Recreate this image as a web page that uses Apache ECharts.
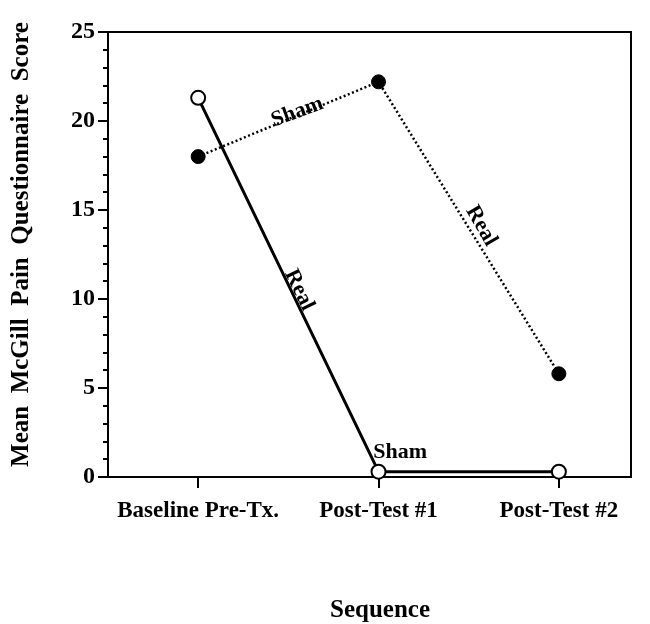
<!DOCTYPE html>
<html>
<head>
<meta charset="utf-8">
<script src="https://cdn.jsdelivr.net/npm/echarts@6/dist/echarts.min.js"></script>
<style>html,body{margin:0;padding:0;background:#fff}#c{width:650px;height:624px}</style>
</head>
<body>
<div id="c"></div>
<script>
// Data
var categories = ['Baseline Pre-Tx.', 'Post-Test #1', 'Post-Test #2'];
var groupOpen = [21.3, 0.3, 0.3];     // open circles, solid line
var groupFilled = [18.0, 22.2, 5.8];  // filled circles, dotted line
var yTicks = [0, 5, 10, 15, 20, 25];
// annotations: [x, y, text, rotation deg]
var notes = [
  [0.55, 20.5, 'Sham', 20],
  [0.56, 10.5, 'Real', -64],
  [1.57, 14.1, 'Real', -60],
  [1.12, 1.4, 'Sham', 0]
];

var FONT = '"Liberation Serif", "DejaVu Serif", serif';
var chart = echarts.init(document.getElementById('c'), null, {renderer: 'canvas'});

function pts(arr) { return arr.map(function (v, i) { return [i, v]; }); }

chart.setOption({
  backgroundColor: '#fff',
  animation: false,
  grid: {left: 108, right: 19, top: 32, bottom: 147, show: true, borderColor: '#000', borderWidth: 2,
    backgroundColor: 'transparent', containLabel: false, outerBoundsMode: 'none'},
  xAxis: {
    type: 'value', min: -0.5, max: 2.4,
    name: 'Sequence', nameLocation: 'middle', nameGap: 121,
    nameTextStyle: {fontFamily: FONT, fontWeight: 'bold', fontSize: 25, color: '#000', padding: [0, 0, 0, 21]},
    axisLine: {show: true, onZero: false, lineStyle: {color: '#000', width: 2}},
    axisTick: {show: true, length: 11, lineStyle: {color: '#000', width: 2}, customValues: [0, 1, 2]},
    axisLabel: {customValues: [0, 1, 2], margin: 23, fontFamily: FONT, fontWeight: 'bold', fontSize: 23, color: '#000',
      formatter: function (v) { return categories[Math.round(v)]; }},
    splitLine: {show: false}
  },
  yAxis: {
    type: 'value', min: 0, max: 25, interval: 5,
    name: 'Mean  McGill  Pain  Questionnaire  Score', nameLocation: 'middle', nameGap: 74, nameRotate: 90,
    nameTextStyle: {fontFamily: FONT, fontWeight: 'bold', fontSize: 25, color: '#000', padding: [0, 0, 0, 20]},
    axisLine: {show: true, onZero: false, lineStyle: {color: '#000', width: 2}},
    axisTick: {show: true, length: 10, lineStyle: {color: '#000', width: 2}},
    minorTick: {show: true, splitNumber: 5, length: 5, lineStyle: {color: '#000', width: 2}},
    axisLabel: {margin: 13, fontFamily: FONT, fontWeight: 'bold', fontSize: 24, color: '#000',
      customValues: yTicks},
    splitLine: {show: false}
  },
  series: [
    {
      type: 'line', data: pts(groupFilled), symbol: 'circle', symbolSize: 14,
      lineStyle: {color: '#000', width: 2.5, type: [2, 2.5]},
      itemStyle: {color: '#000', borderColor: '#000', borderWidth: 1},
      z: 3
    },
    {
      type: 'line', data: pts(groupOpen), symbol: 'circle', symbolSize: 14,
      lineStyle: {color: '#000', width: 3, type: 'solid'},
      itemStyle: {color: '#fff', borderColor: '#000', borderWidth: 2},
      z: 4
    },
    {
      type: 'scatter', symbolSize: 1, silent: true,
      itemStyle: {opacity: 1, color: 'rgba(0,0,0,0)'},
      data: notes.map(function (n) { return {value: [n[0], n[1]], label: {formatter: n[2], rotate: n[3]}}; }),
      label: {show: true, position: 'inside', fontFamily: FONT, fontWeight: 'bold', fontSize: 22, color: '#000',
        opacity: 1, textBorderWidth: 0, textBorderColor: 'transparent'},
      z: 5
    }
  ]
});
</script>
</body>
</html>
